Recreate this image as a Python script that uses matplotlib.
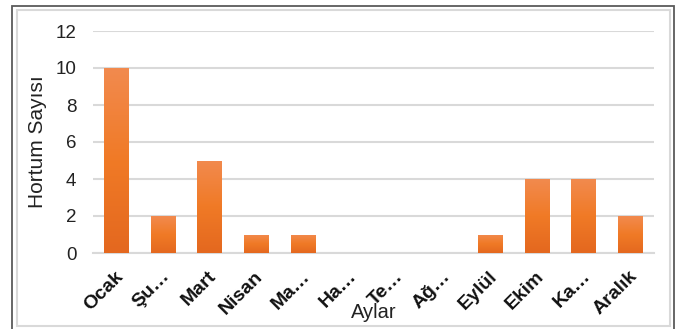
import matplotlib.pyplot as plt
import matplotlib.transforms as mtransforms
import numpy as np
from matplotlib.colors import LinearSegmentedColormap
from matplotlib.patches import Rectangle

months = ["Ocak", "Şu…", "Mart", "Nisan", "Ma…", "Ha…", "Te…", "Ağ…",
          "Eylül", "Ekim", "Ka…", "Aralık"]
counts = [10, 2, 5, 1, 1, 0, 0, 0, 1, 4, 4, 2]
y_ticks = [0, 2, 4, 6, 8, 10, 12]

plt.rcParams['font.family'] = ['Liberation Sans', 'DejaVu Sans']

W, H = 683, 329
fig = plt.figure(figsize=(W / 100, H / 100), dpi=100)
fig.patch.set_facecolor('white')

# chart frame: outer dark border, inner light border
fig.add_artist(Rectangle((12 / W, -0.02), 662 / W, 1 - 6 / H + 0.02,
                         transform=fig.transFigure, fill=False,
                         edgecolor='#5a5a5a', linewidth=1.3))
fig.add_artist(Rectangle((17 / W, 1 - 326 / H), 653 / W, 316 / H,
                         transform=fig.transFigure, fill=False,
                         edgecolor='#d9d9d9', linewidth=1.5))

ax = fig.add_axes([93 / W, 1 - 253 / H, 561 / W, 222 / H])
x = np.arange(len(months))
width = 0.53
bars = ax.bar(x, counts, width=width, color='#ef7b2b', zorder=2)

# vertical gradient on each bar
cmap = LinearSegmentedColormap.from_list(
    'bar', ['#e4681f', '#f07a26', '#f28a4e'])
grad = np.linspace(0, 1, 100).reshape(-1, 1)
for b in bars:
    if b.get_height() <= 0:
        continue
    im = ax.imshow(grad, cmap=cmap, origin='lower', aspect='auto',
                   extent=(b.get_x(), b.get_x() + b.get_width(), 0, b.get_height()),
                   zorder=3)
    im.set_clip_path(b)

ax.set_xlim(-0.5, len(months) - 0.5)
ax.set_ylim(0, 12)
ax.set_yticks(y_ticks)
ax.set_yticklabels([str(v) for v in y_ticks], fontsize=13.5, color='#222222')
ax.yaxis.grid(True, color='#d9d9d9', linewidth=1.5, zorder=0)
ax.set_axisbelow(True)
for s in ['top', 'right', 'left']:
    ax.spines[s].set_visible(False)
ax.spines['bottom'].set_color('#d9d9d9')
ax.spines['bottom'].set_linewidth(1.5)
ax.tick_params(axis='both', length=0)
ax.tick_params(axis='y', pad=12)

ax.set_xticks(x)
ax.set_xticklabels(months, rotation=45, ha='right', va='center',
                   rotation_mode='anchor', fontsize=14, fontweight='bold',
                   color='#111111')
ax.tick_params(axis='x', pad=15)
shift = mtransforms.ScaledTranslation(4 / 100, 0, fig.dpi_scale_trans)
for lbl in ax.get_xticklabels():
    lbl.set_transform(lbl.get_transform() + shift)

ax.set_ylabel('Hortum Sayısı', fontsize=15, color='#222222', labelpad=6)
ax.set_xlabel('Aylar', fontsize=14.5, color='#222222')
ax.xaxis.set_label_coords(0.5, -(318 - 253) / 222, transform=ax.transAxes)
ax.xaxis.label.set_va('baseline')

fig.savefig('out.png', dpi=100, facecolor='white')
